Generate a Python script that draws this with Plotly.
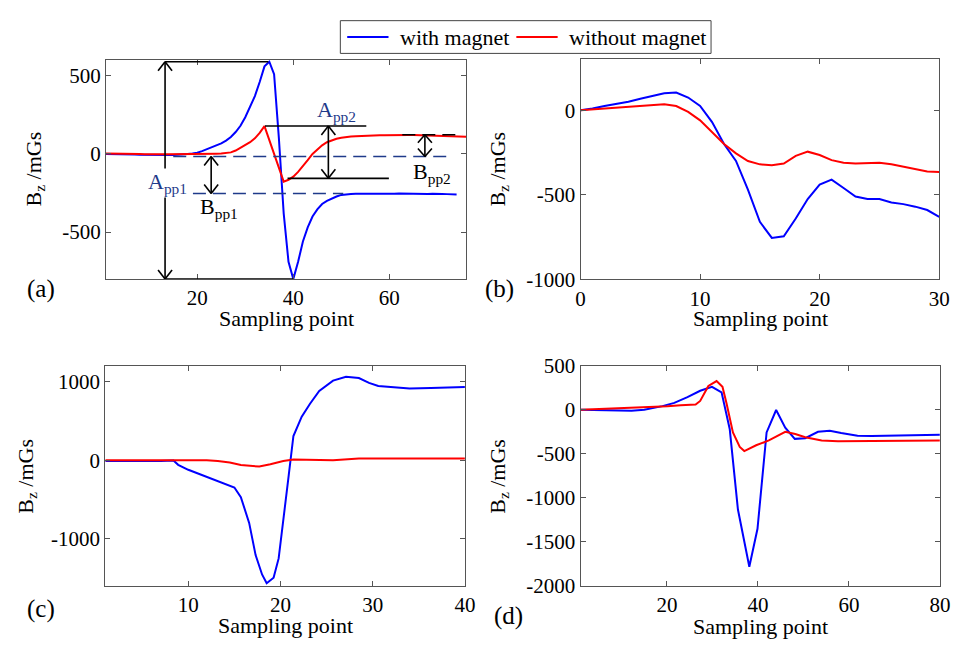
import plotly.graph_objects as go

# ---------------- data ----------------
# panel (a)
xa_blue = list(range(1, 75))
ya_blue = [0, 0, 0, 0, 0, -2, -4, -5, -6, -7,
           -8, -8, -8, -7, -6, -5, -3, 0, 3, 8,
           18, 30, 42, 55, 68, 85, 108, 140, 180, 235,
           300, 370, 460, 560, 590, 510, 100, -380, -690, -800,
           -690, -560, -470, -400, -355, -320, -300, -285, -272, -262,
           -258, -256, -255, -254, -256, -255, -253, -254, -255, -256,
           -254, -253, -254, -255, -254, -253, -255, -256, -255, -254,
           -256, -257, -258, -259]
xa_red = list(range(1, 77))
ya_red = [3, 3, 2, 2, 1, 0, 0, -1, -2, -3,
          -3, -3, -2, -2, -2, -1, -1, 0, 0, 0,
          0, 1, 1, 2, 3, 5, 10, 22, 38, 55,
          75, 100, 135, 178, 88, -2, -92, -177, -165, -145,
          -115, -80, -40, 0, 30, 55, 75, 88, 97, 104,
          109, 111, 113, 115, 117, 118, 119, 120, 120, 121,
          121, 122, 122, 121, 121, 120, 119, 118, 117, 116,
          115, 114, 113, 112, 111, 110]

# panel (b)
xb = list(range(0, 31))
yb_blue = [0, 10, 25, 38, 50, 68, 85, 100, 105, 75,
           25, -70, -200, -300, -470, -660, -755, -745, -640, -525,
           -440, -410, -460, -510, -525, -525, -545, -555, -570, -590, -630]
yb_red = [0, 5, 10, 15, 20, 25, 30, 35, 25, -10,
          -60, -130, -200, -255, -300, -320, -325, -315, -270, -245,
          -265, -295, -310, -315, -312, -310, -320, -335, -350, -362, -365]

# panel (c)
xc_blue = [1, 3, 5, 6, 7, 8.4, 8.9, 10, 11.4, 13.2, 15, 15.7, 16.6, 17.3, 18, 18.5,
           19.25, 19.8, 20.3, 20.9, 21.4, 22.3, 23.2, 24.2, 25.7, 27.1, 28.5, 29.6,
           30.6, 32.8, 34, 36.3, 38, 40]
yc_blue = [-10, -12, -18, -20, -12, -5, -60, -123, -185, -267, -349, -472, -800, -1211,
           -1458, -1569, -1499, -1253, -800, -185, 308, 554, 719, 883, 1014, 1064, 1047,
           986, 945, 924, 915, 920, 922, 932]
xc_red = [1, 5, 10, 12, 13.2, 14.5, 15.7, 17.7, 18.9, 20.3, 21.4, 23, 25.7, 28.5, 30, 35, 40]
yc_red = [0, 0, 0, -2, -12, -30, -62, -82, -53, -12, 8, 5, 0, 20, 22, 20, 20]

# panel (d)
xd_blue = [1, 5, 8, 12.2, 15, 17.3, 19, 21.6, 24.5, 27.3, 29.9, 32, 33.8, 35.6, 38.1,
           39.9, 41.9, 44, 46, 48.1, 50.4, 53.2, 55.8, 58.3, 61.9, 65, 68.3, 72, 76, 80]
yd_blue = [0, -3, -5, -11, 0, 22, 40, 77, 142, 215, 259, 197, -223, -1135, -1785,
           -1354, -259, -4, -204, -332, -325, -252, -241, -266, -296, -300, -296, -295,
           -290, -285]
xd_red = [1, 8.6, 14, 20.1, 23, 26.3, 27.3, 29.1, 30.9, 32.2, 33.1, 34.5, 36, 37, 39.6,
          42.4, 46, 48.2, 50.4, 54, 57.6, 62, 68.3, 74, 80]
yd_red = [0, 15, 20, 40, 51, 58, 99, 270, 325, 259, 69, -259, -423, -471, -405,
          -350, -252, -277, -314, -350, -358, -355, -350, -348, -350]

# axis settings
x_ranges = [[1, 76], [0, 30], [1, 40], [1, 80]]
y_ranges = [[-800, 600], [-1000, 300], [-1600, 1200], [-2000, 500]]
x_ticks = [[20, 40, 60], [0, 10, 20, 30], [10, 20, 30, 40], [20, 40, 60, 80]]
y_ticks = [[-500, 0, 500], [-1000, -500, 0], [-1000, 0, 1000],
           [-2000, -1500, -1000, -500, 0, 500]]
panel_labels = ["(a)", "(b)", "(c)", "(d)"]
x_title = "Sampling point"
y_title = "B<sub>z</sub> /mGs"
series_names = ["with magnet", "without magnet"]

# ---------------- figure ----------------
BLUE = "#0000ff"
RED = "#ff0000"
FONT = "Liberation Serif"
W, H = 962, 647

x_domains = [[102.7 / W, 469 / W], [585.3 / W, 950 / W],
             [102 / W, 467.7 / W], [585.3 / W, 950.7 / W]]
y_domains = [[1 - 277.3 / H, 1 - 50 / H], [1 - 277.7 / H, 1 - 49.3 / H],
             [1 - 595.7 / H, 1 - 367.7 / H], [1 - 595.7 / H, 1 - 367.3 / H]]

fig = go.Figure()
data = [(xa_blue, ya_blue, xa_red, ya_red), (xb, yb_blue, xb, yb_red),
        (xc_blue, yc_blue, xc_red, yc_red), (xd_blue, yd_blue, xd_red, yd_red)]
for i, (xbl, ybl, xr, yr) in enumerate(data):
    xs = "x" if i == 0 else f"x{i+1}"
    ys = "y" if i == 0 else f"y{i+1}"
    fig.add_trace(go.Scatter(x=xbl, y=ybl, mode="lines", line=dict(color=BLUE, width=2),
                             name=series_names[0], showlegend=False, xaxis=xs, yaxis=ys))
    fig.add_trace(go.Scatter(x=xr, y=yr, mode="lines", line=dict(color=RED, width=2),
                             name=series_names[1], showlegend=False, xaxis=xs, yaxis=ys))


def fmt(v):
    return str(v)  # plain hyphen-minus like the reference


layout = dict(width=W, height=H, margin=dict(l=0, r=0, t=0, b=0),
              paper_bgcolor="white", plot_bgcolor="white",
              font=dict(family=FONT, size=20, color="black"),
              showlegend=False)
for i in range(4):
    xk = "xaxis" if i == 0 else f"xaxis{i+1}"
    yk = "yaxis" if i == 0 else f"yaxis{i+1}"
    ya_name = "y" if i == 0 else f"y{i+1}"
    xa_name = "x" if i == 0 else f"x{i+1}"
    layout[xk] = dict(domain=x_domains[i], range=x_ranges[i], anchor=ya_name,
                      tickvals=x_ticks[i], ticktext=[fmt(v) for v in x_ticks[i]],
                      ticks="inside", ticklen=5, tickcolor="#555555",
                      showline=True, linecolor="#555555", linewidth=1, mirror="ticks",
                      showgrid=False, zeroline=False,
                      tickfont=dict(family=FONT, size=21, color="black"))
    layout[yk] = dict(domain=y_domains[i], range=y_ranges[i], anchor=xa_name,
                      tickvals=y_ticks[i], ticktext=[fmt(v) for v in y_ticks[i]],
                      ticks="inside", ticklen=5, tickcolor="#555555",
                      showline=True, linecolor="#555555", linewidth=1, mirror="ticks",
                      showgrid=False, zeroline=False,
                      tickfont=dict(family=FONT, size=21, color="black"))
fig.update_layout(**layout)

annotations = []
shapes = []
# axis titles & panel labels (paper coords)
xt_pos = [(286 / W, 1 - 318 / H), (768 / W, 1 - 318 / H), (285 / W, 1 - 637 / H), (768 / W, 1 - 638 / H)]
yt_pos = [(30 / W, 1 - 163 / H), (502 / W, 1 - 163 / H), (22 / W, 1 - 482 / H), (502 / W, 1 - 482 / H)]
lab_pos = [(37 / W, 1 - 288 / H), (503 / W, 1 - 288 / H), (37 / W, 1 - 620 / H), (512 / W, 1 - 627 / H)]
for i in range(4):
    annotations.append(dict(text=x_title, x=xt_pos[i][0], y=xt_pos[i][1], xref="paper", yref="paper",
                            showarrow=False, font=dict(family=FONT, size=22, color="black"),
                            xanchor="center", yanchor="middle"))
    annotations.append(dict(text=y_title, x=yt_pos[i][0], y=yt_pos[i][1], xref="paper", yref="paper",
                            showarrow=False, textangle=-90, font=dict(family=FONT, size=22, color="black"),
                            xanchor="center", yanchor="middle"))
    annotations.append(dict(text=panel_labels[i], x=lab_pos[i][0], y=lab_pos[i][1], xref="paper",
                            yref="paper", showarrow=False, font=dict(family=FONT, size=25, color="black"),
                            xanchor="center", yanchor="middle"))

# legend box (drawn manually to match the reference's compact frame)
shapes.append(dict(type="rect", xref="paper", yref="paper", x0=341 / W, x1=718 / W,
                   y0=1 - 43 / H, y1=1 - 9 / H, line=dict(color="#444444", width=1),
                   fillcolor="white", layer="above"))
leg_items = [(348, 390, 400, BLUE, series_names[0]), (520, 562, 572, RED, series_names[1])]
for lx0, lx1, tx, col, name in leg_items:
    shapes.append(dict(type="line", xref="paper", yref="paper", x0=lx0 / W, x1=lx1 / W,
                       y0=1 - 26 / H, y1=1 - 26 / H, line=dict(color=col, width=2), layer="above"))
    annotations.append(dict(text=name, x=tx / W, y=1 - 26 / H, xref="paper", yref="paper",
                            showarrow=False, xanchor="left", yanchor="middle",
                            font=dict(family=FONT, size=22, color="black")))

NAVY = "#1f3a8a"
# panel (a) measurement labels
annotations += [
    dict(text="A<sub>pp1</sub>", x=13.8, y=-185, xref="x", yref="y", showarrow=False,
         font=dict(family=FONT, size=22, color=NAVY), bgcolor="white", borderpad=0),
    dict(text="B<sub>pp1</sub>", x=24.6, y=-345, xref="x", yref="y", showarrow=False,
         font=dict(family=FONT, size=22, color="black")),
    dict(text="A<sub>pp2</sub>", x=49, y=272, xref="x", yref="y", showarrow=False,
         font=dict(family=FONT, size=22, color=NAVY)),
    dict(text="B<sub>pp2</sub>", x=68.8, y=-120, xref="x", yref="y", showarrow=False,
         font=dict(family=FONT, size=22, color="black")),
]


def hline(x0, x1, y, color="black", dash="solid", width=1.6):
    shapes.append(dict(type="line", xref="x", yref="y", x0=x0, x1=x1, y0=y, y1=y,
                       line=dict(color=color, width=width, dash=dash), layer="above"))


def darrow(x, ylo, yhi, w=7, h=9, color="black", width=1.6):
    shapes.append(dict(type="line", xref="x", yref="y", x0=x, x1=x, y0=ylo, y1=yhi,
                       line=dict(color=color, width=width), layer="above"))
    for yy, sgn in ((yhi, -1), (ylo, 1)):
        for dx in (-w, w):
            shapes.append(dict(type="line", xref="x", yref="y", xsizemode="pixel", ysizemode="pixel",
                               xanchor=x, yanchor=yy, x0=0, x1=dx, y0=0, y1=sgn * h,
                               line=dict(color=color, width=width), layer="above"))


# A_pp1
hline(13.3, 34.8, 590)
hline(13.3, 40, -800)
darrow(13.3, -800, 590)
# B_pp1 dashed baselines
hline(15, 72.2, -16, color=NAVY, dash="13px,7px")
hline(19.1, 50.4, -253, color=NAVY, dash="13px,7px")
darrow(22.9, -253, -16)
# A_pp2
hline(34.1, 55.2, 179)
hline(38.8, 59.9, -156)
darrow(47.3, -156, 179)
# B_pp2
hline(62.7, 75.2, 123, dash="13px,7px")
darrow(67.4, -16, 123, w=7, h=8)

fig.update_layout(annotations=annotations, shapes=shapes)
fig.write_html("out.html")
